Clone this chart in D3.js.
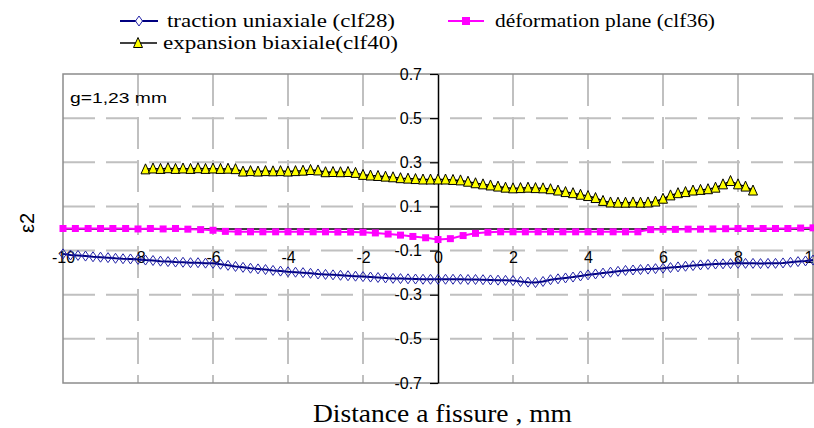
<!DOCTYPE html>
<html><head><meta charset="utf-8">
<script src="https://cdn.jsdelivr.net/npm/d3@7/dist/d3.min.js"></script>
<style>body{margin:0;background:#fff}svg{display:block}</style>
</head><body>
<svg id="c" width="814" height="428"></svg>
<script>
// ---- data ----
const seriesNames = ["traction uniaxiale (clf28)", "déformation plane (clf36)", "expansion biaxiale(clf40)"];
const xTicks = [-10,-8,-6,-4,-2,0,2,4,6,8,10];
const xTickLabels = ["-10","-8","-6","-4","-2","0","2","4","6","8","10"];
const yTicks = [0.7,0.5,0.3,0.1,-0.1,-0.3,-0.5,-0.7];
const yTickLabels = ["0.7","0.5","0.3","0.1","-0.1","-0.3","-0.5","-0.7"];
const xGrid = [-8,-6,-4,-2,2,4,6,8];
const yGrid = [0.5,0.3,0.1,-0.1,-0.3,-0.5];

const tractionX = [-10,-9.8,-9.6,-9.4,-9.2,-9,-8.8,-8.6,-8.4,-8.2,-8,-7.8,-7.6,-7.4,-7.2,-7,-6.8,-6.6,-6.4,-6.2,-6,-5.8,-5.6,-5.4,-5.2,-5,-4.8,-4.6,-4.4,-4.2,-4,-3.8,-3.6,-3.4,-3.2,-3,-2.8,-2.6,-2.4,-2.2,-2,-1.8,-1.6,-1.4,-1.2,-1,-0.8,-0.6,-0.4,-0.2,0,0.2,0.4,0.6,0.8,1,1.2,1.4,1.6,1.8,2,2.2,2.4,2.6,2.8,3,3.2,3.4,3.6,3.8,4,4.2,4.4,4.6,4.8,5,5.2,5.4,5.6,5.8,6,6.2,6.4,6.6,6.8,7,7.2,7.4,7.6,7.8,8,8.2,8.4,8.6,8.8,9,9.2,9.4,9.6,9.8,10];
const tractionY = [-0.115,-0.12,-0.122,-0.125,-0.128,-0.13,-0.132,-0.135,-0.137,-0.138,
 -0.14,-0.143,-0.145,-0.148,-0.15,-0.152,-0.153,-0.155,-0.155,-0.157,
 -0.158,-0.162,-0.167,-0.172,-0.176,-0.18,-0.183,-0.186,-0.19,-0.193,
 -0.196,-0.198,-0.2,-0.203,-0.206,-0.208,-0.21,-0.212,-0.214,-0.216,
 -0.218,-0.22,-0.222,-0.224,-0.226,-0.227,-0.228,-0.229,-0.23,-0.23,
 -0.23,-0.23,-0.23,-0.23,-0.231,-0.231,-0.232,-0.233,-0.234,-0.235,
 -0.236,-0.24,-0.243,-0.245,-0.24,-0.232,-0.228,-0.224,-0.22,-0.215,
 -0.21,-0.206,-0.202,-0.198,-0.194,-0.19,-0.188,-0.186,-0.184,-0.182,
 -0.18,-0.177,-0.174,-0.171,-0.168,-0.165,-0.163,-0.161,-0.16,-0.159,
 -0.158,-0.158,-0.158,-0.159,-0.158,-0.158,-0.156,-0.153,-0.15,-0.147,
 -0.143];

const planeX = [-10,-9.67,-9.33,-9,-8.67,-8.33,-8,-7.67,-7.33,-7,-6.67,-6.33,-6,-5.67,-5.33,-5,-4.67,-4.33,-4,-3.67,-3.33,-3,-2.67,-2.33,-2,-1.67,-1.33,-1,-0.67,-0.33,0,0.33,0.67,1,1.33,1.67,2,2.33,2.67,3,3.33,3.67,4,4.33,4.67,5,5.33,5.67,6,6.33,6.67,7,7.33,7.67,8,8.33,8.67,9,9.33,9.67,10];
const planeY = [0,0,0,0,0,0,-0.002,0,-0.002,0,-0.003,-0.005,
 -0.008,-0.013,
 -0.015,-0.015,-0.015,-0.015,-0.015,-0.015,-0.015,-0.015,-0.016,-0.016,-0.017,
 -0.02,-0.025,-0.03,-0.036,-0.042,-0.05,
 -0.046,-0.032,-0.022,-0.017,-0.015,
 -0.015,-0.015,-0.015,-0.015,-0.015,-0.015,-0.015,-0.015,-0.015,-0.015,-0.015,
 -0.005,-0.004,-0.004,-0.003,-0.003,-0.002,-0.001,0,0,0,0,0,0.002,0.003];

const biaxX = [-7.8,-7.6,-7.4,-7.2,-7,-6.8,-6.6,-6.4,-6.2,-6,-5.8,-5.6,-5.4,-5.2,-5,-4.8,-4.6,-4.4,-4.2,-4,-3.8,-3.6,-3.4,-3.2,-3,-2.8,-2.6,-2.4,-2.2,-2,-1.8,-1.6,-1.4,-1.2,-1,-0.8,-0.6,-0.4,-0.2,0,0.2,0.4,0.6,0.8,1,1.2,1.4,1.6,1.8,2,2.2,2.4,2.6,2.8,3,3.2,3.4,3.6,3.8,4,4.2,4.4,4.6,4.8,5,5.2,5.4,5.6,5.8,6,6.2,6.4,6.6,6.8,7,7.2,7.4,7.6,7.8,8,8.2,8.4];
const biaxY = [0.268,0.272,0.27,0.273,0.27,0.272,0.27,0.273,0.27,0.272,
 0.27,0.271,0.269,0.258,0.26,0.258,0.26,0.259,0.26,0.258,
 0.26,0.262,0.265,0.263,0.255,0.256,0.255,0.256,0.252,0.243,
 0.24,0.238,0.235,0.232,0.228,0.226,0.224,0.222,0.222,0.222,
 0.222,0.22,0.218,0.212,0.205,0.2,0.195,0.19,0.185,0.182,
 0.183,0.185,0.183,0.182,0.178,0.172,0.165,0.16,0.153,0.147,
 0.138,0.125,0.118,0.117,0.117,0.118,0.117,0.118,0.122,0.135,
 0.15,0.16,0.165,0.172,0.175,0.178,0.185,0.2,0.215,0.2,
 0.19,0.172];

// ---- drawing ----
const svg = d3.select("#c");
svg.append("rect").attr("width",814).attr("height",428).attr("fill","#fff");
const L = 63, R = 813, T = 74, B = 383;
const x = d3.scaleLinear().domain([-10,10]).range([L,R]);
const y = d3.scaleLinear().domain([-0.7,0.7]).range([B,T]);
const sans = "'Liberation Sans', Arial, sans-serif";
const serif = "'Liberation Serif', 'Times New Roman', serif";

// grid
const g = svg.append("g");
g.selectAll(".hg").data(yGrid).join("line")
  .attr("x1",L).attr("x2",R).attr("y1",d=>y(d)).attr("y2",d=>y(d))
  .attr("stroke","#c0c0c0").attr("stroke-width",2).attr("stroke-dasharray","32,11");
g.selectAll(".vg").data(xGrid).join("line")
  .attr("y1",T).attr("y2",B).attr("x1",d=>x(d)).attr("x2",d=>x(d))
  .attr("stroke","#c0c0c0").attr("stroke-width",2).attr("stroke-dasharray","32,11");
// frame
svg.append("rect").attr("x",L).attr("y",T).attr("width",R-L).attr("height",B-T)
  .attr("fill","none").attr("stroke","#8c8c8c").attr("stroke-width",1.5);

// x axis at y=0
const xa = svg.append("g").attr("transform",`translate(0,${y(0)})`)
  .call(d3.axisBottom(x).tickValues(xTicks).tickSize(0).tickSizeOuter(0).tickPadding(23)
     .tickFormat((d,i)=>xTickLabels[i]));
xa.select(".domain").attr("stroke","#000").attr("stroke-width",1.5);
xa.selectAll("text").attr("font-family",sans).attr("font-size",16).attr("fill","#000");

// y axis at x=0
const ya = svg.append("g").attr("transform",`translate(${x(0)},0)`)
  .call(d3.axisLeft(y).tickValues(yTicks).tickSize(8).tickSizeOuter(0).tickPadding(8)
     .tickFormat((d,i)=>yTickLabels[i]));
ya.select(".domain").attr("stroke","#000").attr("stroke-width",1.5);
ya.selectAll(".tick line").attr("stroke","#000").attr("stroke-width",1.2);
ya.selectAll("text").attr("font-family",sans).attr("font-size",16).attr("fill","#000");

// series
const line = d3.line().x(d=>x(d[0])).y(d=>y(d[1]));
const tData = tractionX.map((v,i)=>[v,tractionY[i]]);
const pData = planeX.map((v,i)=>[v,planeY[i]]);
const bData = biaxX.map((v,i)=>[v,biaxY[i]]);

const diamond = "M0,-5L3.5,0L0,5L-3.5,0Z";
const tri = "M0,-5.5L4.5,4.5L-4.5,4.5Z";

svg.append("path").datum(tData).attr("d",line).attr("fill","none").attr("stroke","#000080").attr("stroke-width",2);
svg.selectAll(".dm").data(tData).join("path").attr("d",diamond)
  .attr("transform",d=>`translate(${x(d[0])},${y(d[1])})`)
  .attr("fill","none").attr("stroke","#2323a8").attr("stroke-width",1);

svg.append("path").datum(pData).attr("d",line).attr("fill","none").attr("stroke","#ff00ff").attr("stroke-width",2);
svg.selectAll(".sq").data(pData).join("rect")
  .attr("x",d=>x(d[0])-3.5).attr("y",d=>y(d[1])-3.5).attr("width",7).attr("height",7)
  .attr("fill","#ff00ff");

svg.append("path").datum(bData).attr("d",line).attr("fill","none").attr("stroke","#000").attr("stroke-width",1.5);
svg.selectAll(".tr").data(bData).join("path").attr("d",tri)
  .attr("transform",d=>`translate(${x(d[0])},${y(d[1])})`)
  .attr("fill","#ffff00").attr("stroke","#000").attr("stroke-width",1);

// annotation
svg.append("text").attr("x",70).attr("y",103).attr("font-family",sans).attr("font-size",15)
  .attr("textLength",97).attr("lengthAdjust","spacingAndGlyphs").text("g=1,23 mm");

// axis titles
svg.append("text").attr("transform","translate(34,223) rotate(-90)").attr("text-anchor","middle")
  .attr("font-family",sans).attr("font-size",20).text("ε2");
svg.append("text").attr("x",313).attr("y",422).attr("font-family",serif).attr("font-size",26)
  .attr("textLength",259).attr("lengthAdjust","spacingAndGlyphs").text("Distance a fissure , mm");

// legend
const lg = svg.append("g");
lg.append("line").attr("x1",120).attr("x2",158).attr("y1",21).attr("y2",21).attr("stroke","#000080").attr("stroke-width",2);
lg.append("path").attr("d",diamond).attr("transform","translate(139,21)").attr("fill","#fff").attr("stroke","#2323a8");
lg.append("text").attr("x",167).attr("y",27).attr("font-family",serif).attr("font-size",19)
  .attr("textLength",228).attr("lengthAdjust","spacingAndGlyphs").text(seriesNames[0]);
lg.append("line").attr("x1",448).attr("x2",484).attr("y1",21).attr("y2",21).attr("stroke","#ff00ff").attr("stroke-width",2);
lg.append("rect").attr("x",462).attr("y",17).attr("width",8).attr("height",8).attr("fill","#ff00ff");
lg.append("text").attr("x",495).attr("y",27).attr("font-family",serif).attr("font-size",19)
  .attr("textLength",220).attr("lengthAdjust","spacingAndGlyphs").text(seriesNames[1]);
lg.append("line").attr("x1",120).attr("x2",157).attr("y1",43).attr("y2",43).attr("stroke","#000").attr("stroke-width",1.5);
lg.append("path").attr("d",tri).attr("transform","translate(138,43)").attr("fill","#ffff00").attr("stroke","#000");
lg.append("text").attr("x",163).attr("y",49).attr("font-family",serif).attr("font-size",19)
  .attr("textLength",235).attr("lengthAdjust","spacingAndGlyphs").text(seriesNames[2]);
</script>
</body></html>
